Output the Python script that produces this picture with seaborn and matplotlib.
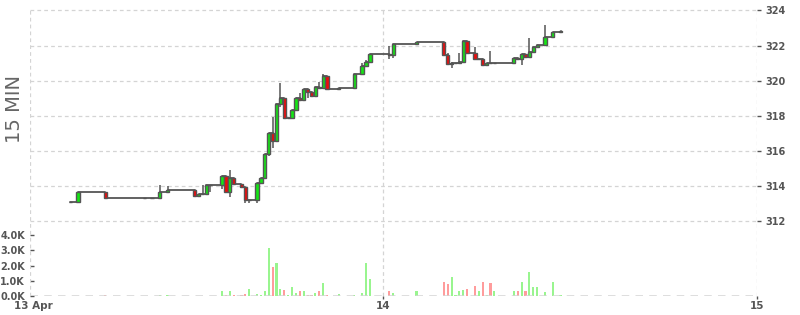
import numpy as np
import pandas as pd
import matplotlib
matplotlib.use("Agg")
import matplotlib.pyplot as plt
import seaborn as sns
from matplotlib.ticker import FuncFormatter

# 15-minute slot index counted from 13 Apr 00:00 (96 slots per day)
slots = [15, 17, 24, 34, 36, 38, 40, 47, 48, 49, 50, 51, 54, 55, 56, 57, 59, 60, 61,
         63, 64, 65, 66, 67, 68, 69, 70, 71, 72, 73, 74, 75, 76, 77, 78, 79, 80, 81,
         84, 88, 90, 91, 92, 97, 98, 104, 111, 112, 113, 114, 115, 116, 117, 119,
         120, 121, 122, 123, 124, 129, 130, 131, 132, 133, 134, 135, 137, 139, 141]
opens = [313.07, 313.07, 313.64, 313.29, 313.29, 313.29, 313.64, 313.75, 313.42, 313.54,
         313.54, 314.03, 314.03, 314.55, 313.64, 314.43, 314.11, 313.92, 313.20,
         313.20, 314.15, 314.43, 315.80, 317.00, 316.56, 318.65, 318.99, 317.85, 317.88,
         318.32, 318.99, 318.90, 319.50, 319.37, 319.12, 319.65, 319.60, 320.26,
         319.50, 319.56, 320.36, 320.83, 321.08, 321.52, 321.46, 322.07, 322.22, 321.44,
         320.95, 320.99, 321.00, 321.04, 322.27, 321.56,
         321.23, 321.23, 320.87, 320.99, 320.98, 320.99, 321.27, 321.23, 321.50, 321.37,
         321.62, 321.90, 322.03, 322.47, 322.75]
closes = [313.07, 313.64, 313.29, 313.29, 313.29, 313.64, 313.75, 313.42, 313.54, 313.54,
          314.03, 314.03, 314.55, 313.64, 314.43, 314.11, 313.92, 313.20, 313.20,
          314.15, 314.43, 315.80, 317.00, 316.56, 318.65, 318.99, 317.85, 317.88, 318.32,
          318.99, 318.90, 319.50, 319.37, 319.12, 319.65, 319.60, 320.26, 319.50,
          319.56, 320.36, 320.83, 321.08, 321.52, 321.46, 322.07, 322.22, 321.44, 320.95,
          320.99, 321.00, 321.04, 322.27, 321.56, 321.23,
          321.23, 320.87, 320.99, 320.98, 320.99, 321.27, 321.23, 321.50, 321.37, 321.62,
          321.90, 322.03, 322.47, 322.75, 322.80]
highs = [313.07, 313.64, 313.64, 313.29, 313.29, 314.05, 314.00, 313.75, 313.54, 314.03,
         314.03, 314.03, 314.55, 314.55, 314.90, 314.43, 314.11, 313.92, 313.20,
         314.15, 314.43, 315.80, 317.00, 317.94, 318.65, 319.88, 318.99, 317.88, 318.32,
         318.99, 319.30, 319.50, 319.50, 319.37, 319.65, 319.90, 320.40, 320.26,
         319.56, 320.36, 320.98, 321.20, 321.52, 321.97, 322.07, 322.22, 322.22, 321.60,
         321.08, 321.00, 321.56, 322.27, 322.27, 321.93,
         321.23, 321.23, 320.99, 321.69, 320.99, 321.27, 321.27, 321.50, 321.50, 322.41,
         321.90, 322.03, 323.17, 322.75, 322.80]
lows = [313.07, 313.07, 313.29, 313.29, 313.29, 313.29, 313.64, 313.42, 313.42, 313.54,
        313.54, 313.67, 313.82, 313.64, 313.38, 314.11, 313.92, 313.00, 313.00,
        313.05, 314.15, 314.43, 315.70, 316.16, 316.56, 318.50, 317.85, 317.85, 317.88,
        318.32, 318.90, 318.90, 319.00, 319.12, 319.12, 319.60, 319.60, 319.50,
        319.50, 319.56, 320.36, 320.83, 321.08, 321.21, 321.30, 322.07, 321.44, 320.95,
        320.70, 320.99, 321.00, 321.04, 321.56, 321.23,
        321.23, 320.87, 320.87, 320.98, 320.98, 320.99, 321.23, 320.90, 321.37, 321.37,
        321.62, 321.90, 322.03, 322.47, 322.75]
volumes = [10, 10, 40, 30, 30, 40, 40, 10, 10, 10, 10, 10, 330, 60, 330, 50, 60, 150, 470,
           140, 60, 330, 3170, 1900, 2160, 470, 400, 50, 600, 200, 330, 330, 60, 60, 200,
           330, 850, 70, 130, 40, 200, 2160, 1100, 350, 220, 350, 940, 810, 1270, 40,
           350, 420, 480, 680, 350, 940, 40, 870, 350, 350, 350, 940, 350, 1600, 610,
           610, 280, 940, 40]

price_ticks = [312, 314, 316, 318, 320, 322, 324]
volume_ticks = [0, 1000, 2000, 3000, 4000]
x_tick_labels = ["13 Apr", "14", "15"]
panel_label = "15 MIN"

df = pd.DataFrame({"slot": slots, "open": opens, "close": closes,
                   "high": highs, "low": lows, "volume": volumes})
df["x"] = df["slot"] + 0.5
df["up"] = df["close"] >= df["open"]

sns.set_theme(style="white")
plt.rcParams["font.family"] = ["DejaVu Sans"]

fig = plt.figure(figsize=(8, 3.15), dpi=100)
ax = fig.add_axes([30 / 800, 19 / 315, 727 / 800, 287 / 315])
axv = ax.twinx()

GRID = "#d4d4d4"
EDGE = "#555555"
TXT = "#555555"

# price axis -> right side; volume axis -> left side
ax.yaxis.tick_right()
axv.yaxis.tick_left()
ax.set_xlim(5.15, 192)
ax.set_ylim(307.73, 324.08)
axv.set_ylim(0, 18820)

for a in (ax, axv):
    for s in a.spines.values():
        s.set_visible(False)
ax.set_zorder(2)
axv.set_zorder(1)
ax.patch.set_visible(False)

# grid
for p in price_ticks:
    ax.axhline(p, color=GRID, lw=0.9, ls=(0, (3, 2.5)), zorder=0)
for xv in [96, 192]:
    ax.axvline(xv, color=GRID, lw=0.9, ls=(0, (3, 2.5)), zorder=0)
ax.axvline(5.15, color=GRID, lw=0.9, ls=(0, (3, 2.5)), zorder=0)
ax.axhline(307.73, color=GRID, lw=1.8, ls=(0, (3, 2.5)), zorder=0)

# volume bars
vcol = np.where(df["up"], "#99f58f", "#ff9c9c")
vcol = np.where((df["open"] == df["close"]) & (df["slot"].isin([34, 36])), "#666666", vcol)
axv.bar(df["x"], df["volume"], width=0.55, color=vcol, linewidth=0, zorder=2)

# step line through closes
sns.lineplot(x=df["x"], y=df["close"], drawstyle="steps-post", color=EDGE,
             lw=1.3, ax=ax, zorder=3, estimator=None, sort=False)

# wicks
ax.vlines(df["x"], df["low"], df["high"], color=EDGE, lw=1.1, zorder=3)

# bodies
body_bottom = np.minimum(df["open"], df["close"])
body_h = np.abs(df["close"] - df["open"])
body_h = np.where(body_h < 0.02, 0.02, body_h)
bcol = np.where(df["up"], "#14e614", "#f00a0a")
ax.bar(df["x"], body_h, bottom=body_bottom, width=0.85, color=bcol,
       edgecolor=EDGE, linewidth=1.0, zorder=4)

# ticks
ax.set_yticks(price_ticks)
ax.set_yticklabels([str(p) for p in price_ticks])
ax.tick_params(axis="y", which="both", right=True, left=False, direction="out",
               length=3, width=1, color=EDGE, labelsize=7, labelcolor=TXT, pad=3)
for lab in ax.get_yticklabels():
    lab.set_fontweight("bold")

axv.set_yticks(volume_ticks)
axv.yaxis.set_major_formatter(FuncFormatter(lambda v, p: f"{v/1000:.1f}K"))
axv.tick_params(axis="y", which="both", left=True, right=False, direction="in",
                length=3, width=1, color=EDGE, labelsize=7, labelcolor=TXT, pad=3.5)
for lab in axv.get_yticklabels():
    lab.set_fontweight("bold")

ax.set_xticks([5.9, 96, 192])
ax.set_xticklabels(x_tick_labels)
ax.tick_params(axis="x", bottom=True, direction="out", length=2.5, width=1,
               color=EDGE, labelsize=7.5, labelcolor=TXT, pad=1)
for lab in ax.get_xticklabels():
    lab.set_fontweight("bold")
ax.xaxis.get_major_ticks()[0].tick1line.set_visible(False)
ax.set_xlabel("")
ax.set_ylabel("")
axv.set_ylabel("")
axv.grid(False)
ax.grid(False)

fig.text(15 / 800, 1 - 109 / 315, panel_label, rotation=90, fontsize=14,
         color="#666666", ha="center", va="center")

fig.savefig("out.png", dpi=100)
